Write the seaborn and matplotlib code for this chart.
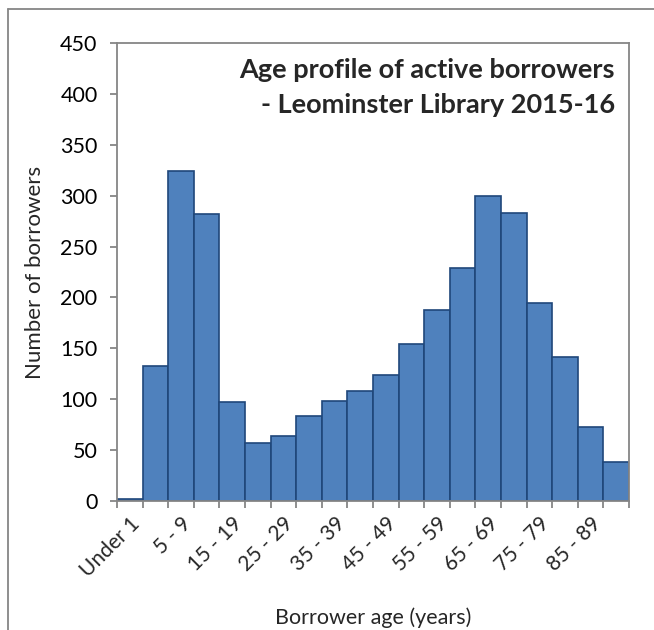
import numpy as np
import pandas as pd
import matplotlib
matplotlib.use("Agg")
import matplotlib.pyplot as plt
from matplotlib.lines import Line2D
import seaborn as sns

# Age bands and number of active borrowers
age_bands = ["Under 1", "1 - 4", "5 - 9", "10 - 14", "15 - 19", "20 - 24", "25 - 29",
             "30 - 34", "35 - 39", "40 - 44", "45 - 49", "50 - 54", "55 - 59",
             "60 - 64", "65 - 69", "70 - 74", "75 - 79", "80 - 84", "85 - 89", "90+"]
borrowers = [2, 133, 324, 282, 97, 57, 64, 84, 98, 108, 124, 154, 188,
             229, 300, 283, 195, 141, 73, 38]
y_ticks = [0, 50, 100, 150, 200, 250, 300, 350, 400, 450]

df = pd.DataFrame({"age": age_bands, "n": borrowers})

sns.set_style("white")
plt.rcParams["font.family"] = ["Lato", "DejaVu Sans"]

W, H = 654, 630
fig = plt.figure(figsize=(W / 100, H / 100), dpi=100)
ax = fig.add_axes([117 / W, 1 - 501 / H, (629 - 117) / W, (501 - 43) / H])

sns.barplot(data=df, x="age", y="n", order=age_bands, color="#4F81BD",
            edgecolor="#1F477A", linewidth=1.2, width=1.0, saturation=1, ax=ax)

grey = "#868686"
for s in ax.spines.values():
    s.set_visible(True)
    s.set_color(grey)
    s.set_linewidth(1.3)

ax.set_xlim(-0.5, len(age_bands) - 0.5)
ax.set_ylim(0, 450)
ax.set_yticks(y_ticks)
ax.tick_params(axis="y", length=5, width=1.3, color=grey, pad=9,
               labelsize=15.5, labelcolor="black", left=True)

# labels on every other band, ticks at band edges
idx = list(range(0, len(age_bands), 2))
ax.set_xticks(idx)
ax.set_xticklabels([age_bands[i] for i in idx], rotation=45, ha="right",
                   rotation_mode="anchor", fontsize=15)
ax.tick_params(axis="x", which="major", length=0, pad=9)
ax.set_xticks(np.arange(-0.5, len(age_bands), 1), minor=True)
ax.tick_params(axis="x", which="minor", length=5, width=1.3, color=grey,
               bottom=True)

ax.set_xlabel("Borrower age (years)", fontsize=15.5, labelpad=19)
ax.set_ylabel("Number of borrowers", fontsize=16, labelpad=11)

ax.text(0.972, 0.968, "Age profile of active borrowers\n- Leominster Library 2015-16",
        transform=ax.transAxes, ha="right", va="top", fontsize=19.5,
        fontweight="bold", linespacing=1.55)

# outer chart-area frame (left and top edges visible)
fig.add_artist(Line2D([7.5 / W, 7.5 / W], [0, 1 - 9 / H], color=grey,
                      linewidth=1.3, transform=fig.transFigure))
fig.add_artist(Line2D([7.5 / W, 1], [1 - 9 / H, 1 - 9 / H], color=grey,
                      linewidth=1.3, transform=fig.transFigure))

fig.savefig("out.png", dpi=100)
